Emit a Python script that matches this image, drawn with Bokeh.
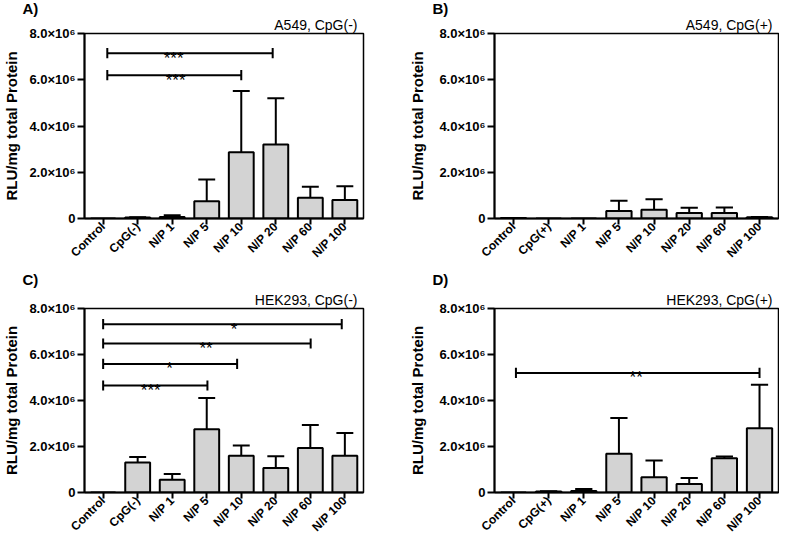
import math
from bokeh.plotting import figure
from bokeh.layouts import row, column
from bokeh.models import FixedTicker, Range1d, Title
from bokeh.embed import file_html
from bokeh.resources import INLINE
from bokeh.core.properties import value

FONT = "Liberation Sans"

# ---------------- data ----------------
cats_minus = ["Control", "CpG(-)", "N/P 1", "N/P 5", "N/P 10", "N/P 20", "N/P 60", "N/P 100"]
cats_plus = ["Control", "CpG(+)", "N/P 1", "N/P 5", "N/P 10", "N/P 20", "N/P 60", "N/P 100"]

# Panel A: A549, CpG(-)
a_mean = [0, 0.04e6, 0.07e6, 0.75e6, 2.87e6, 3.20e6, 0.90e6, 0.80e6]
a_sd = [0, 0.01e6, 0.07e6, 0.94e6, 2.64e6, 2.00e6, 0.47e6, 0.59e6]
# Panel B: A549, CpG(+)
b_mean = [0.02e6, 0, 0, 0.32e6, 0.38e6, 0.24e6, 0.24e6, 0.05e6]
b_sd = [0, 0, 0, 0.45e6, 0.45e6, 0.23e6, 0.24e6, 0.01e6]
# Panel C: HEK293, CpG(-)
c_mean = [0, 1.30e6, 0.55e6, 2.75e6, 1.60e6, 1.07e6, 1.94e6, 1.60e6]
c_sd = [0, 0.24e6, 0.25e6, 1.36e6, 0.44e6, 0.51e6, 1.00e6, 0.99e6]
# Panel D: HEK293, CpG(+)
d_mean = [0, 0.04e6, 0.07e6, 1.69e6, 0.66e6, 0.37e6, 1.49e6, 2.79e6]
d_sd = [0, 0.01e6, 0.08e6, 1.55e6, 0.73e6, 0.26e6, 0.07e6, 1.89e6]

# significance brackets: (start position, end position, height, stars, star position)
a_brackets = [(0.12, 4.91, 7.15e6, "***", 2.04), (0.12, 4.0, 6.20e6, "***", 2.10)]
b_brackets = []
c_brackets = [(0.0, 6.91, 7.32e6, "*", 3.79), (0.0, 6.01, 6.48e6, "**", 2.98),
              (0.0, 3.88, 5.59e6, "*", 1.92), (0.0, 3.02, 4.65e6, "***", 1.38)]
d_brackets = [(0.07, 7.0, 5.20e6, "**", 3.49)]

y_ticks = [0, 2e6, 4e6, 6e6, 8e6]
y_tick_labels = ["0", "2.0×10⁶", "4.0×10⁶", "6.0×10⁶", "8.0×10⁶"]

titles = ["A549, CpG(-)", "A549, CpG(+)", "HEK293, CpG(-)", "HEK293, CpG(+)"]
letters = ["A)", "B)", "C)", "D)"]


def panel(cats, mean, sd, brackets, title, letter, width, height,
          bl, br, bt, bb, label_standoff, letter_standoff):
    p = figure(width=width, height=height, title=None,
               x_range=Range1d(-0.54, 7.54), y_range=Range1d(0, 8e6),
               output_backend="svg", toolbar_location=None,
               min_border_left=bl, min_border_right=br,
               min_border_top=bt, min_border_bottom=bb)
    p.xgrid.visible = False
    p.ygrid.visible = False
    p.outline_line_color = "black"
    p.outline_line_width = 1.5
    p.background_fill_color = "white"
    p.border_fill_color = "white"

    xs = list(range(len(cats)))
    # error bars (upper only)
    ex = [x for x, s in zip(xs, sd) if s > 0]
    ey0 = [m for m, s in zip(mean, sd) if s > 0]
    ey1 = [m + s for m, s in zip(mean, sd) if s > 0]
    p.segment(x0=ex, y0=ey0, x1=ex, y1=ey1, line_color="black", line_width=2)
    p.segment(x0=[x - 0.245 for x in ex], y0=ey1, x1=[x + 0.245 for x in ex], y1=ey1,
              line_color="black", line_width=2)
    # bars
    p.vbar(x=xs, top=mean, bottom=0, width=0.72, fill_color="#d3d3d3",
           line_color="black", line_width=2)

    # significance brackets
    for (s, e, h, stars, sx) in brackets:
        p.segment(x0=[s], y0=[h], x1=[e], y1=[h], line_color="black", line_width=2)
        p.segment(x0=[s, e], y0=[h - 0.22e6, h - 0.22e6], x1=[s, e], y1=[h + 0.22e6, h + 0.22e6],
                  line_color="black", line_width=2)
        p.text(x=[sx], y=[h], text=[stars], text_align="center", text_baseline="alphabetic",
               text_font=value(FONT), text_font_size="17px", text_color="black", y_offset=5)

    # axes
    xa = p.xaxis[0]
    xa.ticker = FixedTicker(ticks=xs)
    xa.major_label_overrides = {x: c for x, c in zip(xs, cats)}
    xa.major_label_orientation = math.pi / 4
    xa.major_label_text_font = FONT
    xa.major_label_text_font_style = "bold"
    xa.major_label_text_font_size = "12px"
    xa.major_label_text_color = "black"
    xa.major_label_standoff = 0
    xa.major_tick_out = 6
    xa.major_tick_in = 0
    xa.minor_tick_out = 0
    xa.minor_tick_in = 0
    xa.axis_line_width = 2
    xa.major_tick_line_width = 2
    xa.axis_line_color = "black"

    ya = p.yaxis[0]
    ya.ticker = FixedTicker(ticks=y_ticks)
    ya.major_label_overrides = {t: l for t, l in zip(y_ticks, y_tick_labels)}
    ya.major_label_text_font = FONT
    ya.major_label_text_font_style = "bold"
    ya.major_label_text_font_size = "13px"
    ya.major_label_text_color = "black"
    ya.major_label_standoff = 2
    ya.major_tick_out = 7
    ya.major_tick_in = 0
    ya.minor_tick_out = 0
    ya.minor_tick_in = 0
    ya.axis_line_width = 2
    ya.major_tick_line_width = 2
    ya.axis_line_color = "black"
    ya.axis_label = "RLU/mg total Protein"
    ya.axis_label_text_font = FONT
    ya.axis_label_text_font_style = "bold"
    ya.axis_label_text_font_size = "15px"
    ya.axis_label_text_color = "black"
    ya.axis_label_standoff = label_standoff

    # panel title (right; positive offset moves it left) and panel letter (left)
    p.add_layout(Title(text=title, align="right", offset=6, standoff=2,
                       text_font=FONT, text_font_style="normal", text_font_size="14px",
                       text_color="black"), "above")
    p.add_layout(Title(text=letter, align="left", offset=-62, standoff=letter_standoff,
                       text_font=FONT, text_font_style="bold", text_font_size="15px",
                       text_color="black"), "above")
    return p


pA = panel(cats_minus, a_mean, a_sd, a_brackets, titles[0], letters[0],
           392, 268, 78, 29, 29, 50, 6, -6)
pB = panel(cats_plus, b_mean, b_sd, b_brackets, titles[1], letters[1],
           387, 268, 102, 1, 29, 50, 10, -6)
pC = panel(cats_minus, c_mean, c_sd, c_brackets, titles[2], letters[2],
           392, 274, 78, 29, 36, 50, 6, 1)
pD = panel(cats_plus, d_mean, d_sd, d_brackets, titles[3], letters[3],
           387, 274, 102, 1, 36, 50, 10, 1)

layout = column(row(pA, pB), row(pC, pD))

open("out.html", "w").write(file_html(layout, INLINE))
